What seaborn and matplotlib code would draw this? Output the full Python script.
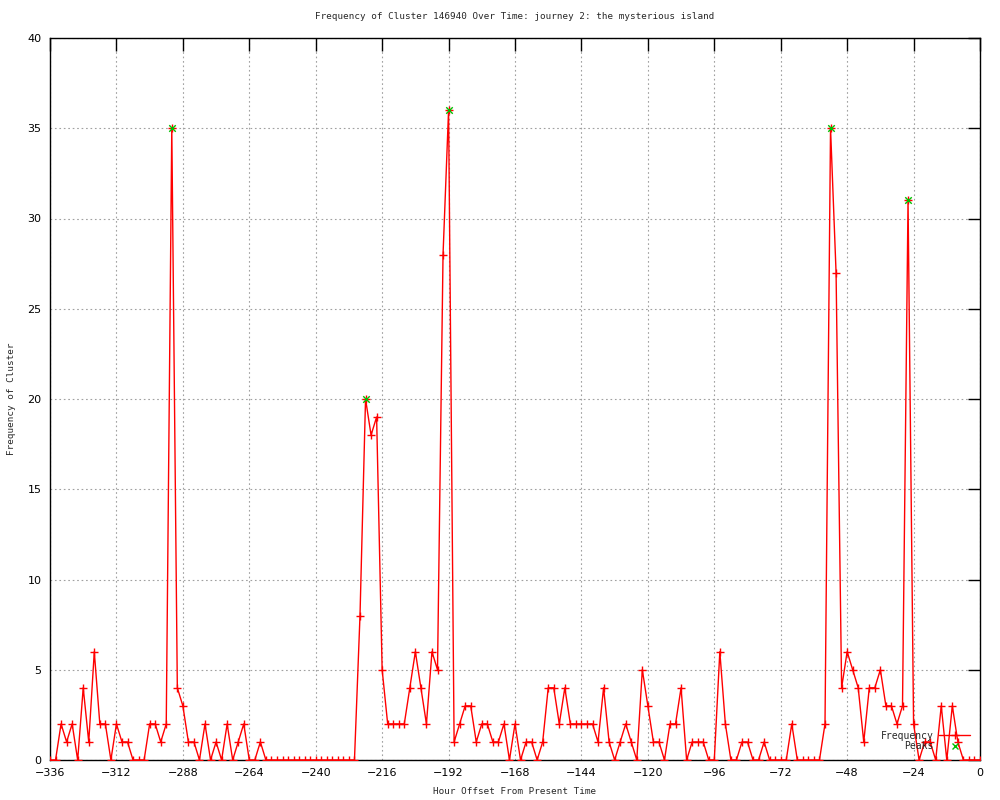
import matplotlib
matplotlib.use("Agg")
import matplotlib.pyplot as plt
import numpy as np
import pandas as pd
import seaborn as sns
from matplotlib.lines import Line2D

# uren (stappen van 2) en frequentie per stap
hours = np.arange(-336, 1, 2)
freq = [0, 0, 2, 1, 2, 0, 4, 1, 6, 2, 2, 0, 2, 1, 1, 0, 0, 0, 2, 2,
        1, 2, 35, 4, 3, 1, 1, 0, 2, 0, 1, 0, 2, 0, 1, 2, 0, 0, 1, 0,
        0, 0, 0, 0, 0, 0, 0, 0, 0, 0, 0, 0, 0, 0, 0, 0, 8, 20, 18, 19,
        5, 2, 2, 2, 2, 4, 6, 4, 2, 6, 5, 28, 36, 1, 2, 3, 3, 1, 2, 2,
        1, 1, 2, 0, 2, 0, 1, 1, 0, 1, 4, 4, 2, 4, 2, 2, 2, 2, 2, 1,
        4, 1, 0, 1, 2, 1, 0, 5, 3, 1, 1, 0, 2, 2, 4, 0, 1, 1, 1, 0,
        0, 6, 2, 0, 0, 1, 1, 0, 0, 1, 0, 0, 0, 0, 2, 0, 0, 0, 0, 0,
        2, 35, 27, 4, 6, 5, 4, 1, 4, 4, 5, 3, 3, 2, 3, 31, 2, 0, 1, 1,
        0, 3, 0, 3, 1, 0, 0, 0, 0]
peak_hours = [-292, -222, -192, -54, -26]
peak_freq = [35, 20, 36, 35, 31]

xticks = list(range(-336, 1, 24))
yticks = list(range(0, 41, 5))

df = pd.DataFrame({"hour": hours, "freq": freq})
peaks = pd.DataFrame({"hour": peak_hours, "freq": peak_freq})

sns.set_style("white")
mono = "DejaVu Sans Mono"

fig = plt.figure(figsize=(10, 8), dpi=100)
ax = fig.add_axes([0.05, 0.05, 0.93, 0.9025])

sns.lineplot(data=df, x="hour", y="freq", ax=ax, color="#ff0000", lw=1,
             marker="+", markersize=5.5, markeredgewidth=1,
             markeredgecolor="#ff0000", zorder=3)
sns.scatterplot(data=peaks, x="hour", y="freq", ax=ax, marker="x",
                color="#00c000", s=22, linewidth=1, zorder=4)

ax.set_xlim(-336, 0)
ax.set_ylim(0, 40)
ax.set_xticks(xticks)
ax.set_yticks(yticks)
ax.set_xticklabels([str(t).replace("-", "\u2212") for t in xticks])
ax.grid(True, color="#a0a0a0", linestyle=(0, (1.5, 2.5)), linewidth=0.8)
ax.set_axisbelow(True)
ax.tick_params(direction="in", length=9, width=1, top=True, right=True,
               labelsize=8, colors="black", pad=6)
for s in ax.spines.values():
    s.set_color("black")
    s.set_linewidth(1)

ax.set_title("Frequency of Cluster 146940 Over Time: journey 2: the mysterious island",
             family=mono, fontsize=6.7, pad=14)
ax.set_xlabel("Hour Offset From Present Time", family=mono, fontsize=6.7, labelpad=6)
ax.set_ylabel("Frequency of Cluster", family=mono, fontsize=6.7, labelpad=8)

handles = [Line2D([], [], color="#ff0000", lw=1, marker="+", markersize=5.5),
           Line2D([], [], color="#00c000", lw=0, marker="x", markersize=5)]
leg = ax.legend(handles, ["Frequency", "Peaks"], loc="lower right",
                bbox_to_anchor=(0.999, 0.0), frameon=False, markerfirst=False,
                handlelength=3.2, handletextpad=0.6, labelspacing=0.05,
                prop={"family": mono, "size": 7})
for t in leg.get_texts():
    t.set_ha("right")

fig.savefig("out.png", dpi=100)
